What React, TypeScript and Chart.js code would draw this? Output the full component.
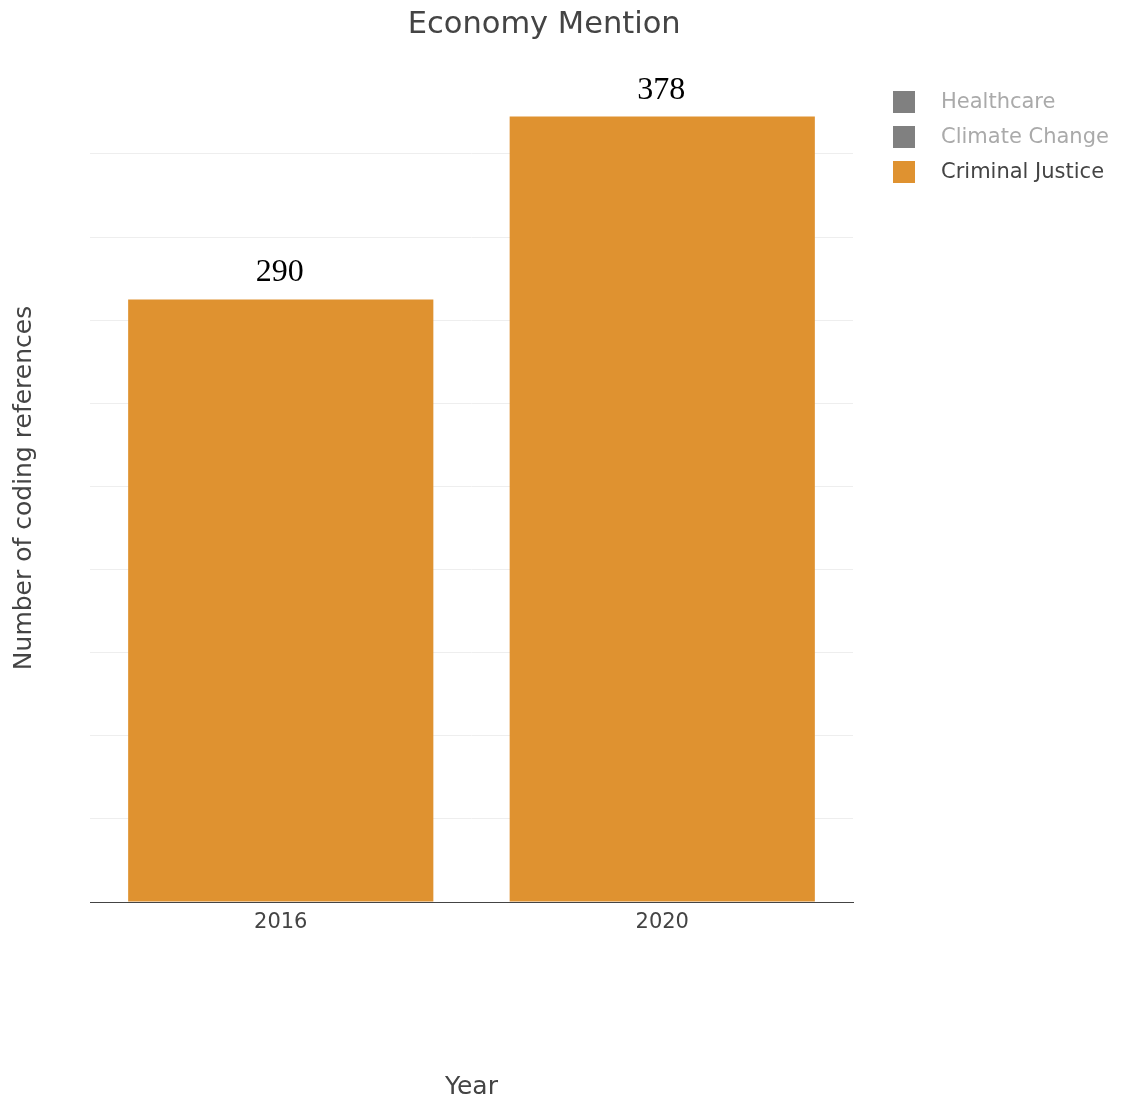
import React, { useEffect, useRef } from "react";
import { Chart, registerables } from "chart.js";

Chart.register(...registerables);

const years = ["2016", "2020"];
const criminalJustice = [290, 378];
const healthcare: number[] = [];
const climateChange: number[] = [];
const seriesNames = ["Healthcare", "Climate Change", "Criminal Justice"];
const yGridValues = [0, 40, 80, 120, 160, 200, 240, 280, 320, 360];
const titleText = "Economy Mention";
const yTitle = "Number of coding references";
const xTitle = "Year";

const ORANGE = "#DF9230";
const HIDDEN_BOX = "#808080";
const FONT = '"DejaVu Sans", Verdana, sans-serif';

const overlayPlugin = {
  id: "overlay",
  afterDatasetsDraw(chart: any) {
    const ctx = chart.ctx;
    const area = chart.chartArea;
    ctx.save();
    // data labels
    chart.data.datasets.forEach((ds: any, i: number) => {
      if (!chart.isDatasetVisible(i)) return;
      const meta = chart.getDatasetMeta(i);
      meta.data.forEach((bar: any, j: number) => {
        ctx.font = '32px "Liberation Serif", "Times New Roman", serif';
        ctx.fillStyle = "#000";
        ctx.textAlign = "center";
        ctx.textBaseline = "alphabetic";
        ctx.fillText(String(ds.data[j]), bar.x - 1, bar.y - 18);
      });
    });
    // title
    ctx.font = `30.5px ${FONT}`;
    ctx.fillStyle = "#444";
    ctx.textAlign = "center";
    ctx.textBaseline = "middle";
    ctx.fillText(titleText, chart.width * 0.482, 25);
    // legend
    chart.data.datasets.forEach((ds: any, i: number) => {
      const visible = chart.isDatasetVisible(i);
      const bx = area.right + 40;
      const cy = area.top + 28 + i * 35;
      ctx.fillStyle = visible ? ds.backgroundColor : HIDDEN_BOX;
      ctx.fillRect(bx, cy - 11, 22, 22);
      ctx.font = `21px ${FONT}`;
      ctx.fillStyle = visible ? "#444" : "#aaaaaa";
      ctx.textAlign = "left";
      ctx.textBaseline = "middle";
      ctx.fillText(ds.label, bx + 48, cy + 1);
    });
    ctx.restore();
  },
};

export default function App() {
  const ref = useRef<HTMLCanvasElement | null>(null);
  useEffect(() => {
    document.body.style.margin = "0";
    document.body.style.overflow = "hidden";
    if (!ref.current) return;
    const chart = new Chart(ref.current, {
      type: "bar",
      data: {
        labels: years,
        datasets: [
          { label: seriesNames[0], data: healthcare, backgroundColor: HIDDEN_BOX, hidden: true },
          { label: seriesNames[1], data: climateChange, backgroundColor: HIDDEN_BOX, hidden: true },
          { label: seriesNames[2], data: criminalJustice, backgroundColor: ORANGE },
        ],
      },
      options: {
        animation: false,
        responsive: false,
        maintainAspectRatio: false,
        layout: { padding: { left: 0, right: 276, top: 74, bottom: 0 } },
        datasets: { bar: { grouped: false, barPercentage: 0.8, categoryPercentage: 1 } },
        plugins: {
          legend: { display: false },
          title: { display: false },
          tooltip: { enabled: false },
        },
        scales: {
          x: {
            grid: { display: false, drawTicks: false },
            border: { display: true, color: "#444", width: 1 },
            ticks: { color: "#444", font: { family: FONT, size: 21 }, padding: 8 },
            title: {
              display: true,
              text: xTitle,
              color: "#444",
              font: { family: FONT, size: 25 },
              padding: { top: 0, bottom: 3 },
            },
            afterFit(scale: any) {
              scale.height = 203;
            },
          },
          y: {
            min: 0,
            max: 398.5,
            grid: { color: "#eeeeee", lineWidth: 1, drawTicks: false },
            border: { display: false },
            ticks: { display: false },
            afterBuildTicks(scale: any) {
              scale.ticks = yGridValues.map((v) => ({ value: v }));
            },
            title: {
              display: true,
              text: yTitle,
              color: "#444",
              font: { family: FONT, size: 25 },
              padding: { top: 9, bottom: 0 },
            },
            afterFit(scale: any) {
              scale.width = 90;
            },
          },
        },
      },
      plugins: [overlayPlugin],
    });
    return () => chart.destroy();
  }, []);
  return (
    <div style={{ width: 1129, height: 1105 }}>
      <canvas ref={ref} width={1129} height={1105} style={{ display: "block" }} />
    </div>
  );
}
